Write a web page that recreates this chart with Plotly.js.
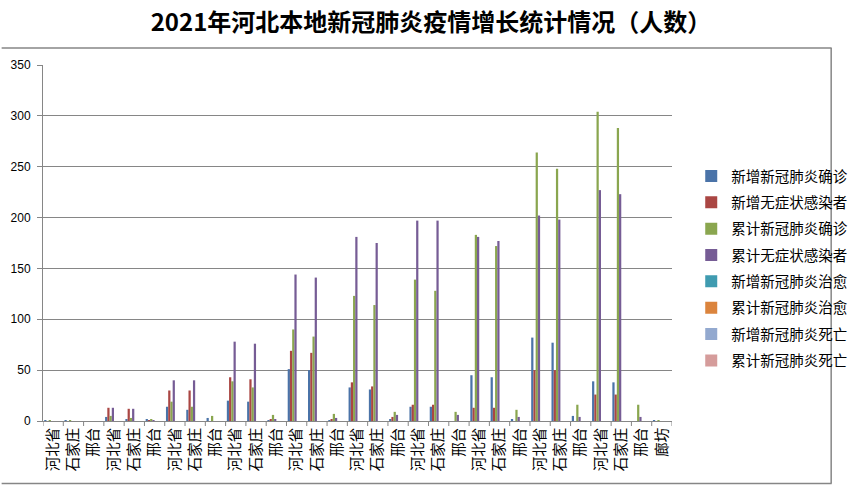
<!DOCTYPE html>
<html>
<head>
<meta charset="utf-8">
<script src="https://cdn.plot.ly/plotly-3.0.1.min.js"></script>
<style>html,body{margin:0;padding:0;background:#fff;}#chart{width:865px;height:485px;}</style>
</head>
<body>
<div id="chart"></div>
<script>
// Categories (x axis), in order
const categories = [
  "河北省","石家庄","邢台",
  "河北省","石家庄","邢台",
  "河北省","石家庄","邢台",
  "河北省","石家庄","邢台",
  "河北省","石家庄","邢台",
  "河北省","石家庄","邢台",
  "河北省","石家庄","邢台",
  "河北省","石家庄","邢台",
  "河北省","石家庄","邢台",
  "河北省","石家庄","邢台",
  "廊坊"
];

const seriesNames = [
  "新增新冠肺炎确诊","新增无症状感染者","累计新冠肺炎确诊","累计无症状感染者",
  "新增新冠肺炎治愈","累计新冠肺炎治愈","新增新冠肺炎死亡","累计新冠肺炎死亡"
];

const newConfirmed     = [1,1,0, 4,2,2, 14,11,3, 20,19,1, 51,50,1, 33,31,2, 14,14,0, 45,43,2, 82,77,5, 39,38,0, 1];
const newAsymptomatic  = [0,0,0, 13,12,1, 30,30,0, 43,41,2, 69,67,2, 38,34,4, 16,16,0, 13,13,0, 50,50,0, 26,26,0, 0];
const totalConfirmed   = [1,1,0, 5,3,2, 19,14,5, 39,33,6, 90,83,7, 123,114,9, 139,128,9, 183,172,11, 264,248,16, 304,288,16, 1];
const totalAsymptomatic= [0,0,0, 13,12,1, 40,40,0, 78,76,2, 144,141,3, 181,175,6, 197,197,6, 181,177,4, 202,198,4, 227,223,4, 0];
const newCured         = [0,0,0, 0,0,0, 0,0,0, 0,0,0, 0,0,0, 0,0,0, 0,0,0, 0,0,0, 0,0,0, 0,0,0, 0];
const totalCured       = [0,0,0, 0,0,0, 0,0,0, 0,0,0, 0,0,0, 0,0,0, 0,0,0, 0,0,0, 0,0,0, 0,0,0, 0];
const newDeaths        = [0,0,0, 0,0,0, 0,0,0, 0,0,0, 0,0,0, 0,0,0, 0,0,0, 0,0,0, 0,0,0, 0,0,0, 0];
const totalDeaths      = [0,0,0, 0,0,0, 0,0,0, 0,0,0, 0,0,0, 0,0,0, 0,0,0, 0,0,0, 0,0,0, 0,0,0, 0];

const yTickVals = [0,50,100,150,200,250,300,350];

const seriesValues = [newConfirmed,newAsymptomatic,totalConfirmed,totalAsymptomatic,newCured,totalCured,newDeaths,totalDeaths];
const colors = ["#4A73A8","#AA4643","#8AA64F","#765C95","#3F9BB0","#DB843D","#93A9CF","#D59C9B"];

// use index-based x so repeated category names stay distinct
const xIdx = categories.map((c,i)=>i);

const traces = seriesValues.map((vals,k)=>({
  type:"bar",
  name: seriesNames[k],
  x: xIdx,
  y: vals,
  marker:{color: colors[k], line:{width:0}},
  legendgroup: "g"+k,
  hovertemplate: "%{y}<extra>"+seriesNames[k]+"</extra>"
}));

const X0 = 43, X1 = 697, Y0 = 421, Y1 = 65;
const px = v => (v - X0) / (X1 - X0);
const py = v => (Y0 - v) / (Y0 - Y1);

const layout = {
  width: 865, height: 485,
  margin: {l: X0, r: 865 - X1, t: Y1, b: 485 - Y0},
  paper_bgcolor: "#ffffff",
  plot_bgcolor: "#ffffff",
  barmode: "group",
  bargap: 0.12,
  bargroupgap: 0,
  title: {
    text: "<b>2021年河北本地新冠肺炎疫情增长统计情况（人数）</b>",
    font: {family: "Noto Sans CJK SC, sans-serif", size: 24, color: "#000"},
    xref: "container", x: 431/865, xanchor: "center",
    yref: "container", y: 1 - 23/485, yanchor: "middle"
  },
  xaxis: {
    type: "linear",
    range: [-0.5, categories.length - 0.5],
    tickmode: "array",
    tickvals: xIdx,
    ticktext: categories,
    tickangle: -90,
    tickfont: {family: "Noto Sans CJK SC, sans-serif", size: 14.5, color: "#000"},
    showgrid: false,
    zeroline: false,
    showline: true,
    linecolor: "#868686",
    linewidth: 1,
    ticks: "",
    fixedrange: true
  },
  yaxis: {
    range: [0, 350],
    tickmode: "array",
    tickvals: yTickVals,
    ticktext: yTickVals.map(String),
    tickfont: {family: "Liberation Sans, Arial, sans-serif", size: 12, color: "#000"},
    showgrid: true,
    gridcolor: "#868686",
    gridwidth: 1,
    zeroline: false,
    showline: true,
    linecolor: "#868686",
    linewidth: 1,
    ticks: "outside",
    ticklen: 5,
    tickcolor: "#868686",
    ticklabelstandoff: 4,
    fixedrange: true
  },
  legend: {
    x: px(717), xanchor: "left",
    y: py(160), yanchor: "top",
    font: {family: "Noto Sans CJK SC, sans-serif", size: 14.5, color: "#000"},
    tracegroupgap: 4.5,
    itemwidth: 30,
    bgcolor: "rgba(0,0,0,0)"
  },
  showlegend: true,
  shapes: []
};

// category boundary tick marks on x axis
for (let i = 0; i <= categories.length; i++) {
  layout.shapes.push({
    type: "line", xref: "x", yref: "paper",
    x0: i - 0.5, x1: i - 0.5, y0: 0, y1: -5/(Y0 - Y1),
    line: {color: "#868686", width: 1}
  });
}
// chart border lines
layout.shapes.push({type:"line", xref:"paper", yref:"paper", x0: px(0), x1: px(863), y0: py(48), y1: py(48), line:{color:"#868686", width:1.5}});
layout.shapes.push({type:"line", xref:"paper", yref:"paper", x0: px(862.5), x1: px(862.5), y0: py(48), y1: py(483.5), line:{color:"#868686", width:1.5}});
layout.shapes.push({type:"line", xref:"paper", yref:"paper", x0: px(0), x1: px(863), y0: py(483.5), y1: py(483.5), line:{color:"#868686", width:1.5}});

Plotly.newPlot("chart", traces, layout, {displayModeBar: false, staticPlot: true});
</script>
</body>
</html>
